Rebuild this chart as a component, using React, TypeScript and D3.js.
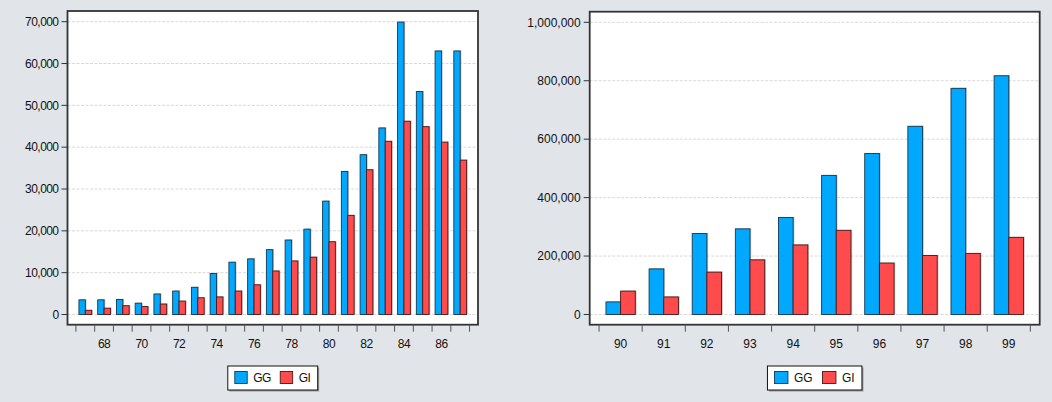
import React from "react";
import * as d3 from "d3";

// Yearly totals for the 1967–1987 panel
const earlyYears = ["67","68","69","70","71","72","73","74","75","76","77","78","79","80","81","82","83","84","85","86","87"];
const earlyGG = [3500, 3500, 3600, 2700, 4900, 5600, 6500, 9800, 12500, 13300, 15500, 17800, 20400, 27100, 34200, 38200, 44600, 69900, 53300, 63000, 63000];
const earlyGI = [1000, 1500, 2100, 1900, 2500, 3200, 4000, 4200, 5600, 7100, 10400, 12800, 13700, 17400, 23700, 34600, 41400, 46200, 44900, 41200, 36900];
const earlyTicks = [0, 10000, 20000, 30000, 40000, 50000, 60000, 70000];
const earlyLabelYears = ["68","70","72","74","76","78","80","82","84","86"];

// Yearly totals for the 1990–1999 panel
const lateYears = ["90","91","92","93","94","95","96","97","98","99"];
const lateGG = [43000, 156000, 277000, 293000, 332000, 476000, 551000, 644000, 774000, 817000];
const lateGI = [80000, 60000, 145000, 187000, 238000, 288000, 176000, 202000, 209000, 264000];
const lateTicks = [0, 200000, 400000, 600000, 800000, 1000000];

const seriesNames = ["GG", "GI"];
const seriesColors = ["#00A9FF", "#FF4B4B"];
const seriesStroke = ["#14394d", "#4d1818"];

const fmt = d3.format(",");

type PanelProps = {
  years: string[];
  gg: number[];
  gi: number[];
  ticks: number[];
  labelYears: string[];
  box: { left: number; right: number; top: number; bottom: number };
  yZero: number;
  yTopTick: number;
  outerPad: number;
  spacing: number;
  legendScale: number;
};

function Panel(p: PanelProps) {
  const { box } = p;
  const maxTick = p.ticks[p.ticks.length - 1];
  const y = d3.scaleLinear().domain([0, maxTick]).range([p.yZero, p.yTopTick]);
  const x = d3
    .scaleBand<string>()
    .domain(p.years)
    .range([box.left, box.right])
    .paddingOuter(p.outerPad)
    .paddingInner(0);
  const bw = x.bandwidth();
  const inner = d3
    .scaleBand<string>()
    .domain(seriesNames)
    .range([bw * 0.16, bw * 0.84]);
  const values = [p.gg, p.gi];
  const font = "'Liberation Sans', Arial, sans-serif";
  const tickEdges = [...p.years.map((yr) => x(yr) as number), (x(p.years[p.years.length - 1]) as number) + bw];

  // legend layout, centred under the plot
  const k = p.legendScale;
  const sw = 13.5 * k;
  const textW = [18.5 * k, 12 * k];
  const legendW = 8 + sw + 6 + textW[0] + 10 + sw + 5 + textW[1] + 8;
  const cx = (box.left + box.right) / 2;
  const lx = cx - legendW / 2;
  const ly = 366;
  const lh = 24;
  const item0 = lx + 7;
  const item1 = item0 + sw + 6 + textW[0] + 10;

  return (
    <g fontFamily={font} fontSize={12} fill="#111" letterSpacing={p.spacing}>
      <rect x={box.left} y={box.top} width={box.right - box.left} height={box.bottom - box.top} fill="#ffffff" />
      {p.ticks.map((t) => (
        <line
          key={"g" + t}
          x1={box.left}
          x2={box.right}
          y1={y(t)}
          y2={y(t)}
          stroke="#d9d9d9"
          strokeWidth={1}
          strokeDasharray="3,1.5"
        />
      ))}
      {p.years.map((yr, i) =>
        seriesNames.map((s, si) => {
          const v = values[si][i];
          const bx = (x(yr) as number) + (inner(s) as number);
          const by = y(v);
          const h = y(0) - by;
          return (
            <g key={yr + s}>
              <rect x={bx + 1.2} y={by - 0.6} width={inner.bandwidth()} height={h + 0.6} fill="#8a8a8a" opacity={0.55} />
              <rect
                x={bx}
                y={by}
                width={inner.bandwidth()}
                height={h}
                fill={seriesColors[si]}
                stroke={seriesStroke[si]}
                strokeWidth={0.9}
              />
            </g>
          );
        })
      )}
      <rect
        x={box.left}
        y={box.top}
        width={box.right - box.left}
        height={box.bottom - box.top}
        fill="none"
        stroke="#333"
        strokeWidth={1.8}
      />
      {p.ticks.map((t) => (
        <g key={"t" + t}>
          <line x1={box.left - 6} x2={box.left} y1={y(t)} y2={y(t)} stroke="#333" strokeWidth={1} />
          <text x={box.left - 9} y={y(t)} dy="0.35em" textAnchor="end">
            {fmt(t)}
          </text>
        </g>
      ))}
      {tickEdges.map((ex, i) => (
        <line key={"x" + i} x1={ex} x2={ex} y1={box.bottom} y2={box.bottom + 7} stroke="#555" strokeWidth={1} />
      ))}
      {p.labelYears.map((yr) => (
        <text key={"l" + yr} x={(x(yr) as number) + bw / 2} y={347.5} textAnchor="middle">
          {yr}
        </text>
      ))}
      <rect x={lx + 1.5} y={ly + 1.5} width={legendW} height={lh} fill="#9a9a9a" />
      <rect x={lx} y={ly} width={legendW} height={lh} fill="#ffffff" stroke="#111" strokeWidth={1} />
      {[item0, item1].map((ix, si) => (
        <g key={"lg" + si}>
          <rect
            x={ix}
            y={ly + 5.5}
            width={sw}
            height={12}
            fill={seriesColors[si]}
            stroke={seriesStroke[si]}
            strokeWidth={0.9}
          />
          <text x={ix + sw + 6} y={ly + 12} dy="0.36em">
            {seriesNames[si]}
          </text>
        </g>
      ))}
    </g>
  );
}

export default function App() {
  return (
    <svg
      width={1052}
      height={402}
      style={{ position: "absolute", left: 0, top: 0, display: "block" }}
    >
      <rect x={0} y={0} width={1052} height={402} fill="#E1E5EA" />
      <Panel
        years={earlyYears}
        gg={earlyGG}
        gi={earlyGI}
        ticks={earlyTicks}
        labelYears={earlyLabelYears}
        box={{ left: 67.5, right: 478, top: 11, bottom: 324.7 }}
        yZero={314.5}
        yTopTick={21.7}
        outerPad={0.45}
        spacing={-0.55}
        legendScale={0.92}
      />
      <Panel
        years={lateYears}
        gg={lateGG}
        gi={lateGI}
        ticks={lateTicks}
        labelYears={lateYears}
        box={{ left: 589.7, right: 1039.7, top: 11.7, bottom: 324.7 }}
        yZero={314.5}
        yTopTick={22.3}
        outerPad={0.217}
        spacing={0}
        legendScale={1}
      />
    </svg>
  );
}
